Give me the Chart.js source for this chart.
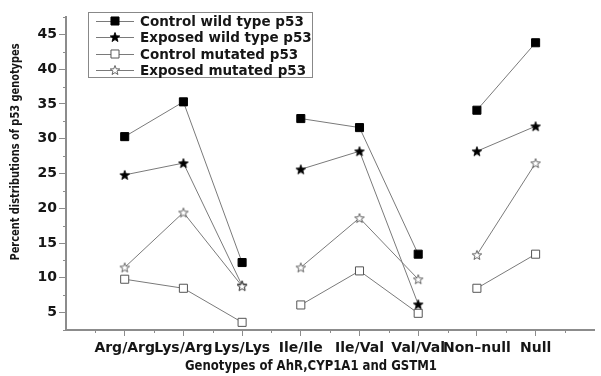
<!DOCTYPE html>
<html>
<head>
<meta charset="utf-8">
<script src="https://cdn.jsdelivr.net/npm/chart.js@4/dist/chart.umd.min.js"></script>
<style>
  html, body { margin: 0; padding: 0; background: #fff; overflow: hidden; }
  canvas { display: block; }
</style>
</head>
<body>
<canvas id="p53-chart" width="601" height="376"></canvas>
<script>
// Genotype categories on the x axis
const categories = ["Arg/Arg", "Lys/Arg", "Lys/Lys", "Ile/Ile", "Ile/Val", "Val/Val", "Non\u2013null", "Null"];

// Percent values
const controlWild = [30.3, 35.3, 12.2, 32.9, 31.6, 13.4, 34.1, 43.8];
const exposedWild = [24.8, 26.5, 8.9, 25.6, 28.2, 6.2, 28.2, 31.8];
const controlMutated = [9.8, 8.5, 3.6, 6.1, 11.0, 4.9, 8.5, 13.4];
const exposedMutated = [11.5, 19.4, 8.8, 11.5, 18.6, 9.8, 13.3, 26.5];

const seriesNames = ["Control wild type p53", "Exposed wild type p53", "Control mutated p53", "Exposed mutated p53"];
const yTicks = [5, 10, 15, 20, 25, 30, 35, 40, 45];
// lines are broken after these gene groups
const groupEnds = [2, 5];

const FONT = "'DejaVu Sans', 'Liberation Sans', sans-serif";
const TEXT_COLOR = "#161616";
const LINE_COLOR = "#7a7a7a";
const AXIS_COLOR = "#8c8c8c";

// 5-point star drawn on a small canvas so Chart.js can use it as pointStyle
function makeStar(fill, stroke) {
  const size = 12;
  const c = document.createElement("canvas");
  c.width = size;
  c.height = size;
  const ctx = c.getContext("2d");
  const cx = size / 2, cy = size / 2 + 0.5;
  const outer = 5, inner = 2.1;
  ctx.beginPath();
  for (let i = 0; i < 10; i++) {
    const r = i % 2 === 0 ? outer : inner;
    const a = -Math.PI / 2 + (i * Math.PI) / 5;
    const px = cx + r * Math.cos(a);
    const py = cy + r * Math.sin(a);
    if (i === 0) ctx.moveTo(px, py);
    else ctx.lineTo(px, py);
  }
  ctx.closePath();
  ctx.fillStyle = fill;
  ctx.fill();
  ctx.lineWidth = 0.9;
  ctx.strokeStyle = stroke;
  ctx.stroke();
  return c;
}

const filledStar = makeStar("#000", "#000");
const openStar = makeStar("#fff", "#555");

const markerStyles = [
  { pointStyle: "rect", radius: 5.7, bg: "#000", border: "#000" },
  { pointStyle: filledStar, radius: 5, bg: "#000", border: "#000" },
  { pointStyle: "rect", radius: 5.7, bg: "#fff", border: "#555" },
  { pointStyle: openStar, radius: 5, bg: "#fff", border: "#555" },
];
// lower order is drawn on top; the open stars sit above the rest
const drawOrder = [1, 2, 3, 0];

function toPoints(values) {
  return values.map((v, i) => ({ x: i, y: v }));
}

function makeDataset(i, values) {
  const m = markerStyles[i];
  return {
    label: seriesNames[i],
    data: toPoints(values),
    order: drawOrder[i],
    borderColor: LINE_COLOR,
    borderWidth: 1,
    pointStyle: m.pointStyle,
    pointRadius: m.radius,
    pointBackgroundColor: m.bg,
    pointBorderColor: m.border,
    pointBorderWidth: 1,
    tension: 0,
    segment: {
      borderColor: (ctx) => (groupEnds.includes(ctx.p0DataIndex) ? "transparent" : LINE_COLOR),
    },
  };
}

// draw text squeezed to a given width (the original uses a condensed face)
function fitText(ctx, text, x, y, width, angle) {
  const w = ctx.measureText(text).width;
  ctx.save();
  ctx.translate(x, y);
  ctx.rotate(angle);
  ctx.scale(width / w, 1);
  ctx.fillText(text, 0, 0);
  ctx.restore();
}

// titles, legend box and minor ticks
const extrasPlugin = {
  id: "extras",
  afterDraw(chart) {
    const ctx = chart.ctx;
    const xs = chart.scales.x;
    const ys = chart.scales.y;
    const area = chart.chartArea;

    ctx.save();
    // minor ticks
    ctx.strokeStyle = AXIS_COLOR;
    ctx.lineWidth = 1;
    ctx.beginPath();
    for (let v = -0.5; v <= 8; v += 1) {
      const px = Math.round(xs.getPixelForValue(v)) + 0.5;
      ctx.moveTo(px, area.bottom);
      ctx.lineTo(px, area.bottom + 3);
    }
    for (let v = 2.5; v <= 47.5; v += 5) {
      const py = Math.round(ys.getPixelForValue(v)) + 0.5;
      ctx.moveTo(area.left, py);
      ctx.lineTo(area.left - 3, py);
    }
    ctx.stroke();

    // axis titles
    ctx.fillStyle = TEXT_COLOR;
    ctx.textAlign = "center";
    ctx.textBaseline = "middle";
    ctx.font = "bold 14px " + FONT;
    fitText(ctx, "Genotypes of AhR,CYP1A1 and GSTM1", 311, 366, 252, 0);
    ctx.font = "bold 12px " + FONT;
    fitText(ctx, "Percent distributions of p53 genotypes", 16, 152, 217, -Math.PI / 2);

    // legend
    ctx.strokeStyle = "#888";
    ctx.lineWidth = 1;
    ctx.strokeRect(88.5, 12.5, 224, 65);
    const rowY = [21, 37, 54, 70];
    seriesNames.forEach((name, i) => {
      const y = rowY[i];
      ctx.strokeStyle = LINE_COLOR;
      ctx.beginPath();
      ctx.moveTo(96, y + 0.5);
      ctx.lineTo(134, y + 0.5);
      ctx.stroke();
      const m = markerStyles[i];
      ctx.fillStyle = m.bg;
      ctx.strokeStyle = m.border;
      ctx.lineWidth = 1;
      Chart.helpers.drawPoint(ctx, { pointStyle: m.pointStyle, radius: m.radius, borderWidth: 1 }, 115, y);
      ctx.fillStyle = TEXT_COLOR;
      ctx.textAlign = "left";
      ctx.font = "bold 13.5px " + FONT;
      ctx.fillText(name, 140, y + 1);
    });
    ctx.restore();
  },
};

const ctx = document.getElementById("p53-chart").getContext("2d");
const chartInstance = new Chart(ctx, {
  type: "line",
  data: {
    datasets: [
      makeDataset(0, controlWild),
      makeDataset(1, exposedWild),
      makeDataset(2, controlMutated),
      makeDataset(3, exposedMutated),
    ],
  },
  options: {
    responsive: false,
    animation: false,
    devicePixelRatio: 1,
    layout: { padding: { top: 17, right: 0, left: 0, bottom: 0 } },
    plugins: {
      legend: { display: false },
      tooltip: { enabled: false },
    },
    scales: {
      x: {
        type: "linear",
        min: -1,
        max: 8,
        afterBuildTicks: (scale) => {
          scale.ticks = categories.map((c, i) => ({ value: i }));
        },
        afterFit: (scale) => {
          scale.height = 46;
        },
        ticks: {
          autoSkip: false,
          maxRotation: 0,
          padding: 4,
          color: TEXT_COLOR,
          font: { family: FONT, size: 14, weight: "bold" },
          callback: (v) => categories[v] ?? "",
        },
        grid: { drawOnChartArea: false, tickLength: 6, color: AXIS_COLOR },
        border: { display: true, color: AXIS_COLOR, width: 2 },
      },
      y: {
        min: 2.5,
        max: 47.5,
        afterBuildTicks: (scale) => {
          scale.ticks = yTicks.map((v) => ({ value: v }));
        },
        afterFit: (scale) => {
          scale.width = 66;
        },
        ticks: {
          padding: 2,
          color: TEXT_COLOR,
          font: { family: FONT, size: 14, weight: "bold" },
        },
        grid: { drawOnChartArea: false, tickLength: 7, color: AXIS_COLOR },
        border: { display: true, color: AXIS_COLOR, width: 2 },
      },
    },
  },
  plugins: [extrasPlugin],
});
</script>
</body>
</html>
